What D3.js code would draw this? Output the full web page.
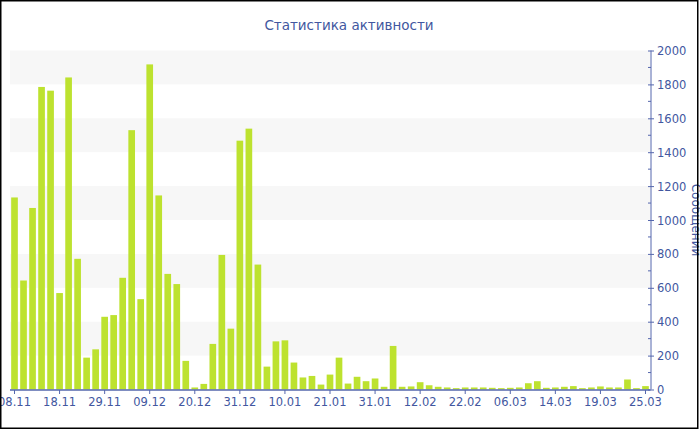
<!DOCTYPE html>
<html><head><meta charset="utf-8">
<script src="https://cdn.jsdelivr.net/npm/d3@7/dist/d3.min.js"></script>
<style>body{margin:0;background:#fff}svg{display:block}</style>
</head><body><svg id="c" width="700" height="430"></svg>
<script>
const title = "Статистика активности";
const yTitle = "Сообщений";
const values = [1133,643,1071,1785,1763,569,1841,771,188,237,
  429,439,659,1530,533,1918,1145,682,622,169,
  12,33,269,794,359,1468,1539,737,135,284,
  290,159,71,80,29,88,188,35,75,49,
  65,16,257,16,18,43,25,16,12,8,
  12,12,12,10,8,10,12,37,49,10,
  12,16,20,8,12,18,12,12,59,8,20];
const tickIndex = [0,5,10,15,20,25,30,35,40,45,50,55,60,65,70];
const tickLabels = ["08.11","18.11","29.11","09.12","20.12","31.12","10.01","21.01","31.01","12.02","22.02","06.03","14.03","19.03","25.03"];
const yTicks = [0,200,400,600,800,1000,1200,1400,1600,1800,2000];
const bandsFrom = [200,600,1000,1400,1800];

const svg = d3.select("#c");
const font = "DejaVu Sans, Verdana, sans-serif";
const txt = "#4257a0", axisCol = "#5567ad";
const x = d3.scaleBand().domain(values.map((d,i)=>i)).range([10,650]).paddingInner(0.26).paddingOuter(0.13);
const y = d3.scaleLinear().domain([0,2000]).range([389.5,50.5]);

svg.append("rect").attr("x",0).attr("y",0).attr("width",700).attr("height",430).attr("fill","#fff");
svg.selectAll("rect.band").data(bandsFrom).join("rect").attr("class","band")
  .attr("x",10).attr("width",640).attr("y",d=>y(d+200)).attr("height",d=>y(d)-y(d+200)).attr("fill","#f7f7f7");

svg.selectAll("rect.bar").data(values).join("rect").attr("class","bar")
  .attr("x",(d,i)=>x(i)).attr("width",x.bandwidth())
  .attr("y",d=>y(d)).attr("height",d=>y(0)-y(d))
  .attr("fill","#bde22f");

// x axis
const xa = svg.append("g").attr("transform","translate(0,390)");
xa.append("line").attr("x1",10).attr("x2",650.5).attr("y1",0).attr("y2",0).attr("stroke",axisCol).attr("stroke-width",1.5);
tickIndex.forEach((ti,k)=>{
  const cx = x(ti)+x.bandwidth()/2;
  xa.append("line").attr("x1",cx).attr("x2",cx).attr("y1",0).attr("y2",4).attr("stroke",axisCol);
  xa.append("text").attr("x",cx).attr("y",16).attr("text-anchor","middle")
    .attr("font-family",font).attr("font-size",11.5).attr("fill",txt).text(tickLabels[k]);
});

// right y axis
const yaxis = d3.axisRight(y).tickValues(yTicks).tickSize(3).tickPadding(3).tickFormat(d3.format("d"));
const ya = svg.append("g").attr("transform","translate(651,0)").call(yaxis);
ya.select(".domain").attr("stroke",axisCol).attr("d","M0,50.5V389.5");
ya.selectAll(".tick line").attr("stroke",axisCol).attr("x1",-3);
ya.selectAll(".tick text").attr("font-family",font).attr("font-size",11.5).attr("fill",txt).attr("dy","0.35em");
const minor = d3.range(100,2000,200);
ya.selectAll("line.minor").data(minor).join("line").attr("class","minor")
  .attr("x1",-3).attr("x2",0).attr("y1",d=>y(d)).attr("y2",d=>y(d)).attr("stroke",axisCol);

svg.append("text").attr("transform","translate(692,220) rotate(90)").attr("text-anchor","middle")
  .attr("font-family",font).attr("font-size",12).attr("fill",txt).text(yTitle);

svg.append("text").attr("x",349).attr("y",30).attr("text-anchor","middle")
  .attr("font-family",font).attr("font-size",13.5).attr("fill",txt).text(title);

svg.append("rect").attr("x",0.75).attr("y",0.75).attr("width",697).attr("height",427.5)
  .attr("fill","none").attr("stroke","#000").attr("stroke-width",1.5);
</script></body></html>
